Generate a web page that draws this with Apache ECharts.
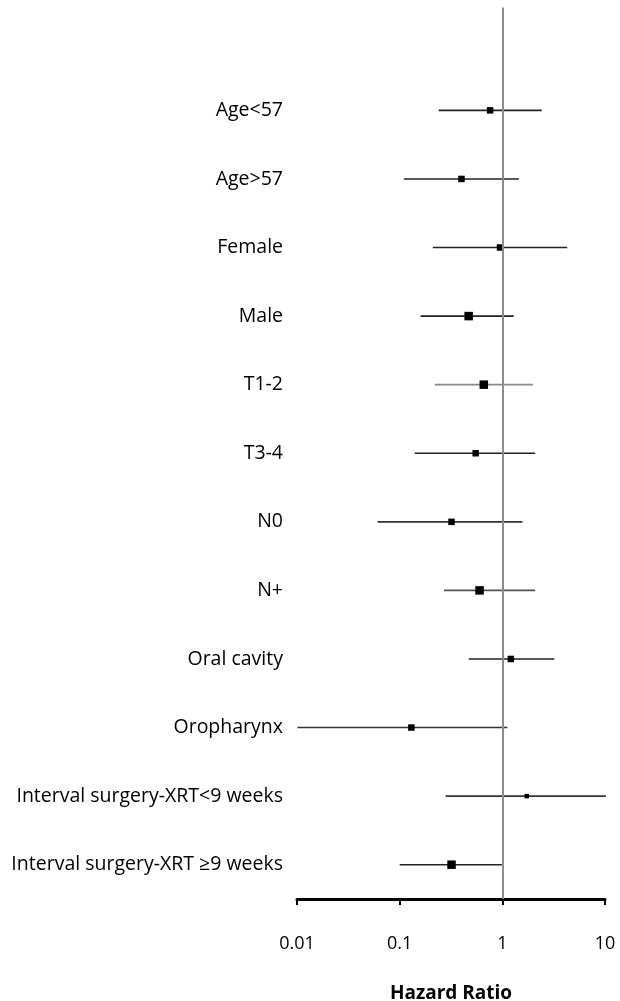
<!DOCTYPE html>
<html>
<head>
<meta charset="utf-8">
<script src="https://cdn.jsdelivr.net/npm/echarts@6/dist/echarts.min.js"></script>
<style>html,body{margin:0;padding:0;background:#fff;}#c{width:620px;height:1001px;}</style>
</head>
<body>
<div id="c"></div>
<script>
var categories = ['Age<57', 'Age>57', 'Female', 'Male', 'T1-2', 'T3-4', 'N0', 'N+', 'Oral cavity', 'Oropharynx', 'Interval surgery-XRT<9 weeks', 'Interval surgery-XRT \u22659 weeks'];
var hazardRatio = [0.76, 0.40, 0.95, 0.47, 0.66, 0.55, 0.32, 0.60, 1.21, 0.13, 1.73, 0.32];
var lowerCI = [0.24, 0.11, 0.21, 0.16, 0.22, 0.14, 0.061, 0.27, 0.47, 0.0101, 0.28, 0.10];
var upperCI = [2.42, 1.45, 4.29, 1.29, 1.99, 2.09, 1.57, 2.09, 3.21, 1.12, 10.2, 0.99];
var weight = [6.5, 6.5, 6.5, 8.5, 8.5, 6.5, 6.5, 8.5, 6.5, 6.5, 4.5, 8.5];
var lineShade = ['#222', '#222', '#222', '#222', '#888', '#222', '#333', '#555', '#222', '#333', '#333', '#222'];
var xTicks = [0.01, 0.1, 1, 10];

var FONT = '"Open Sans", Lato, sans-serif';
var yCats = [''].concat(categories);

var ciData = categories.map(function (c, i) { return [lowerCI[i], upperCI[i], c, i]; });
var ptData = categories.map(function (c, i) { return { value: [hazardRatio[i], c], symbolSize: weight[i] }; });

var chart = echarts.init(document.getElementById('c'), null, { renderer: 'canvas' });
chart.setOption({
  animation: false,
  backgroundColor: '#fff',
  grid: { left: 297, right: 15, top: 7.5, bottom: 102, containLabel: false, outerBoundsMode: 'none' },
  xAxis: {
    type: 'log', logBase: 10, min: xTicks[0], max: xTicks[xTicks.length - 1],
    axisLine: { show: true, lineStyle: { color: '#000', width: 3 } },
    axisTick: { show: true, length: 6, lineStyle: { color: '#000', width: 2 } },
    splitLine: { show: false },
    minorTick: { show: false },
    axisLabel: { color: '#000', fontSize: 18, fontFamily: FONT, margin: 36,
      formatter: function (v) { return String(+v.toPrecision(3)); } },
    name: 'Hazard Ratio', nameLocation: 'middle', nameGap: 85,
    nameTextStyle: { color: '#000', fontSize: 19, fontWeight: 'bold', fontFamily: FONT }
  },
  yAxis: {
    type: 'category', data: yCats, inverse: true,
    axisLine: { show: false }, axisTick: { show: false }, splitLine: { show: false },
    axisLabel: { color: '#000', fontSize: 19.5, fontFamily: FONT, margin: 14, interval: 0 }
  },
  series: [
    {
      type: 'custom',
      data: ciData,
      encode: { x: [0, 1], y: 2 },
      z: 3,
      renderItem: function (params, api) {
        var a = api.coord([api.value(0), api.value(2)]);
        var b = api.coord([api.value(1), api.value(2)]);
        var idx = api.value(3);
        return { type: 'line', shape: { x1: a[0], y1: a[1], x2: b[0], y2: b[1] },
          style: { stroke: lineShade[idx], lineWidth: 1.6 } };
      }
    },
    {
      type: 'scatter',
      symbol: 'rect',
      data: ptData,
      z: 4,
      itemStyle: { color: '#000', opacity: 1 },
      markLine: {
        silent: true, symbol: 'none', label: { show: false },
        lineStyle: { color: '#8c8c8c', width: 2, type: 'solid' },
        data: [{ xAxis: 1 }]
      }
    }
  ]
});
</script>
</body>
</html>
